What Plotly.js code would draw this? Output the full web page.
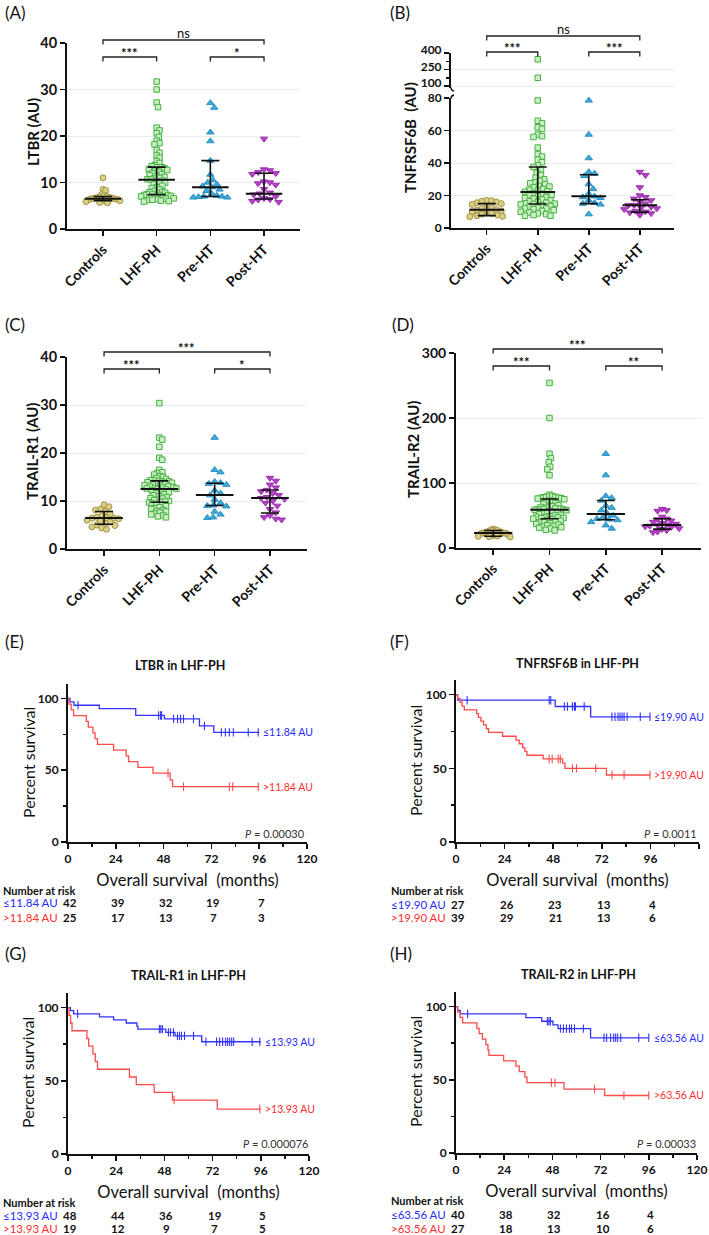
<!DOCTYPE html>
<html><head><meta charset="utf-8">
<script src="https://cdn.plot.ly/plotly-3.0.1.min.js"></script>
<style>html,body{margin:0;padding:0;background:#fff}#chart{width:709px;height:1235px}</style>
</head><body><div id="chart"></div>
<script>
// ================= DATA =================
const groups = ['Controls', 'LHF-PH', 'Pre-HT', 'Post-HT'];

// (A) LTBR
const ltbrControls = [11.0, 8.5, 8.3, 7.4, 7.2, 7.0, 6.9, 6.8, 6.7, 6.6, 6.6, 6.5, 6.5, 6.4, 6.3, 6.2, 6.1, 6.0, 5.9, 5.7, 5.6];
const ltbrLHFPH = [31.7, 30.0, 27.2, 26.2, 21.8, 21.2, 20.6, 19.8, 19.0, 18.5, 18.2, 17.0, 16.4, 15.8, 15.3, 14.6, 14.2, 13.7, 13.5, 13.3, 13.3, 13.1, 12.9, 12.7, 12.5, 12.3, 12.0, 11.8, 11.6, 11.4, 11.2, 11.0, 10.8, 10.7, 10.6, 10.4, 10.2, 10.0, 9.8, 9.6, 9.3, 9.0, 8.8, 8.5, 8.2, 8.0, 7.9, 7.8, 7.6, 7.5, 7.4, 7.3, 7.3, 7.2, 7.1, 7.0, 6.9, 6.8, 6.7, 6.6, 6.5, 6.4, 6.3, 6.2, 6.1, 6.0, 5.9];
const ltbrPreHT = [27.1, 26.1, 20.8, 18.9, 14.7, 11.7, 10.5, 10.0, 9.6, 9.2, 9.0, 8.5, 8.2, 7.6, 7.2, 7.0, 7.0, 6.9, 6.8, 6.8];
const ltbrPostHT = [19.4, 12.8, 12.6, 12.2, 12.0, 11.8, 10.2, 10.0, 9.8, 9.5, 8.6, 7.8, 7.6, 7.4, 7.0, 6.6, 6.4, 6.3, 6.0, 5.8];
const ltbrMedian = [6.5, 10.6, 9.0, 7.6];
const ltbrQ1 = [6.1, 7.4, 7.0, 6.45];
const ltbrQ3 = [7.0, 13.3, 14.7, 12.0];

// (B) TNFRSF6B
const tnfControls = [17.0, 16.8, 16.5, 16.0, 15.5, 15.0, 14.5, 13.0, 12.5, 12.0, 11.3, 11.0, 10.5, 10.0, 9.5, 9.0, 8.5, 8.0, 7.5, 7.2, 7.0];
const tnfLHFPH = [343, 175, 78.5, 66, 64.5, 62, 61, 57.5, 56.5, 56, 49.5, 45.5, 44, 42, 40.5, 38.5, 37.5, 36, 34, 32.5, 31, 30, 29, 28, 27.5, 27, 26, 25.5, 25, 24, 23.5, 23, 22.5, 22.2, 21.5, 21, 20.5, 20, 19.5, 19, 18.5, 18, 17.5, 17, 16.5, 16, 15.5, 15.2, 15, 14.8, 14.5, 14, 13.5, 13, 12.5, 12, 12, 11.5, 11, 10.5, 10, 9.5, 9, 8.5, 8, 7.5, 7.5];
const tnfPreHT = [78.5, 57.5, 43, 34.5, 33.5, 32, 27, 24, 21, 19.5, 19, 18.5, 17, 15.5, 15, 14.5, 8.5];
const tnfPostHT = [34.5, 32.5, 25, 20, 19, 18, 17, 16, 15, 14, 14, 13, 12.5, 12, 11.5, 10.5, 10, 9.5, 9, 8];
const tnfMedian = [11.3, 22.2, 19.5, 14.0];
const tnfQ1 = [7.6, 14.8, 15.0, 9.8];
const tnfQ3 = [15.0, 37.5, 32.8, 17.4];

// (C) TRAIL-R1
const trail1Controls = [9.2, 8.8, 8.3, 8.1, 7.8, 7.3, 6.9, 6.6, 6.5, 6.4, 6.4, 6.3, 6.0, 5.8, 5.6, 5.3, 5.0, 4.9, 4.6, 4.4, 4.1];
const trail1LHFPH = [30.4, 23.2, 22.8, 21.3, 19.0, 18.6, 16.5, 16.0, 15.8, 15.5, 15.2, 15.0, 14.8, 14.6, 14.4, 14.3, 14.2, 14.1, 14.0, 13.9, 13.8, 13.6, 13.5, 13.4, 13.3, 13.2, 13.1, 13.0, 12.9, 12.8, 12.7, 12.6, 12.6, 12.5, 12.4, 12.2, 12.0, 11.8, 11.6, 11.4, 11.2, 11.0, 10.8, 10.6, 10.5, 10.3, 10.2, 10.0, 9.9, 9.8, 9.7, 9.5, 9.3, 9.1, 8.9, 8.7, 8.5, 8.3, 8.1, 7.9, 7.8, 7.6, 7.4, 7.2, 7.0, 6.8, 6.6];
const trail1PreHT = [23.2, 16.5, 16.0, 14.0, 13.8, 13.6, 13.4, 12.2, 11.6, 11.2, 10.3, 9.6, 9.1, 9.0, 8.9, 7.8, 7.2, 6.6, 6.5];
const trail1PostHT = [14.8, 14.2, 13.4, 12.8, 12.3, 12.0, 11.6, 11.2, 10.8, 10.6, 10.4, 10.0, 9.6, 9.0, 8.3, 7.6, 7.0, 6.6, 6.3, 6.1];
const trail1Median = [6.45, 12.5, 11.25, 10.6];
const trail1Q1 = [5.15, 9.75, 9.05, 7.5];
const trail1Q3 = [7.8, 14.2, 13.7, 12.3];

// (D) TRAIL-R2
const trail2Controls = [29, 28, 27.5, 27, 26, 25, 24.5, 24, 23.5, 23, 23, 22.5, 22, 21, 20, 19.5, 19, 18.5, 18, 17.5, 17];
const trail2LHFPH = [254, 200, 145, 138, 132, 125, 121, 112, 82, 80, 79, 78.5, 78, 77.5, 77, 76.5, 76, 75, 73, 72, 70, 69, 68, 66, 65, 64, 63, 62, 61, 60.5, 60, 59.5, 59.2, 58.7, 58, 57, 56, 55, 54, 53, 52, 51, 50, 49, 48, 47.5, 47, 46, 45.5, 45, 44, 43, 42, 41, 40, 39, 38, 37, 36, 35, 34, 33, 32, 31, 30, 28, 27];
const trail2PreHT = [145, 112, 80, 77, 73, 65, 62, 58, 53, 50, 47, 45, 44, 43, 40, 35, 30];
const trail2PostHT = [60, 58, 57, 48, 45, 44, 42, 40, 38, 37, 36, 35, 34, 33, 32, 30, 29, 27, 25, 24];
const trail2Median = [23, 58.7, 52.5, 35.2];
const trail2Q1 = [18, 45, 43.4, 29];
const trail2Q3 = [27, 75.5, 73, 45];

// Kaplan-Meier (time in months, survival in %)
const riskTimes = [0, 24, 48, 72, 96];
// (E) LTBR
const eLowT = [0, 1, 3, 15.7, 34, 48.4, 66, 73.2, 96];
const eLowS = [100, 97.6, 95.2, 92.9, 88.1, 85.7, 80.8, 76.3, 76.3];
const eLowCens = [5, 45.5, 46.5, 47, 53, 55, 56.5, 58, 63, 68.5, 77, 79, 81, 83, 90.5, 95.5];
const eHighT = [0, 0.4, 1.6, 2.8, 9.2, 10.2, 12.5, 13.6, 14.8, 22.9, 29.2, 30.4, 35.1, 42.7, 51.3, 52.5, 96];
const eHighS = [100, 96, 92, 88, 84, 80, 76, 72, 68, 64, 60, 56, 52, 48, 43.3, 38.5, 38.5];
const eHighCens = [50.2, 58, 81, 82.7, 95.5];
const eRiskLow = [42, 39, 32, 19, 7];
const eRiskHigh = [25, 17, 13, 7, 3];
// (F) TNFRSF6B
const fLowT = [0, 0.8, 49, 66.5, 96];
const fLowS = [100, 96.3, 92.0, 85.0, 85.0];
const fLowCens = [5.5, 46, 46.8, 53.5, 55, 57.5, 58.5, 59, 63.3, 77, 78.5, 80, 81, 82, 83, 84.5, 91, 95.8];
const fHighT = [0, 0.8, 2, 3, 4.1, 10.2, 11, 12.3, 13.6, 15, 16.1, 23, 29.6, 31.2, 32.9, 34, 35, 43, 52.6, 53.8, 74.3, 96];
const fHighS = [100, 97.4, 94.9, 92.3, 89.7, 87.2, 84.6, 82.1, 79.5, 76.9, 74.4, 71.8, 69.2, 66.7, 64.1, 61.5, 58.9, 56.4, 53.6, 50.0, 45.5, 45.5];
const fHighCens = [46, 47.5, 50.5, 51.5, 57.5, 59.5, 69, 77, 83, 95.8];
const fRiskLow = [27, 26, 23, 13, 4];
const fRiskHigh = [39, 29, 21, 13, 6];
// (G) TRAIL-R1
const gLowT = [0, 1.2, 2.8, 15.7, 22.7, 29, 34.3, 34.8, 48.7, 53.3, 66.6, 96];
const gLowS = [100, 97.9, 95.8, 93.7, 91.6, 89.5, 87.4, 85.3, 83.1, 80.7, 76.7, 76.7];
const gLowCens = [4.8, 45.5, 46.2, 47, 50, 51, 52.5, 54.5, 55.5, 56.5, 58, 62.5, 68.7, 74, 75.5, 77, 78.5, 79.5, 80.5, 81.5, 82.5, 91.7, 95.5];
const gHighT = [0, 0.5, 1.3, 2.0, 9.4, 10.3, 12.4, 13.6, 14.7, 30.6, 34, 42.9, 52, 74.3, 96];
const gHighS = [100, 94.7, 89.5, 84.2, 78.9, 73.7, 68.4, 63.2, 57.9, 52.6, 47.4, 42.1, 36.8, 30.7, 30.7];
const gHighCens = [52.8, 95.5];
const gRiskLow = [48, 44, 36, 19, 5];
const gRiskHigh = [19, 12, 9, 7, 5];
// (H) TRAIL-R2
const hLowT = [0, 0.8, 2.2, 34.8, 42.7, 48.3, 50.8, 67, 96];
const hLowS = [100, 97.5, 95, 92.5, 90, 87.5, 85, 78.7, 78.7];
const hLowCens = [5.8, 45.5, 46.3, 47, 52, 53.5, 55, 56.5, 57.5, 59, 63.4, 73.7, 75, 77, 78.5, 79.5, 80.5, 82, 91, 96];
const hHighT = [0, 0.8, 2, 3.3, 10.4, 11.5, 13.2, 14.9, 15.9, 16.4, 23.7, 29.8, 31.5, 34.3, 35.3, 53.8, 74, 96];
const hHighS = [100, 96.3, 92.6, 88.9, 85.2, 81.5, 77.8, 74.1, 70.4, 66.7, 63.0, 59.3, 55.6, 51.9, 48.1, 43.7, 39.3, 39.3];
const hHighCens = [47.5, 49.3, 69, 83.6, 96];
const hRiskLow = [40, 38, 32, 16, 4];
const hRiskHigh = [27, 18, 13, 10, 6];

// ================= STYLE / LAYOUT =================
const W = 709, H = 1235;
const FONT = 'Lato, "Open Sans", "DejaVu Sans", sans-serif';
const INK = '#111';
const BLUE = '#3232ff', RED = '#ff4a4a';
const BLUE_T = '#2a2aff', RED_T = '#ff2e2e';
const px = x => x / W, py = y => 1 - y / H;

const groupStyle = [
  {symbol: 'circle', size: 6, color: '#d9cf88', line: '#a39340'},
  {symbol: 'square', size: 5.5, color: '#cdeec5', line: '#46b343'},
  {symbol: 'triangle-up', size: 6.5, color: '#3ba8d8', line: '#2a90c2'},
  {symbol: 'triangle-down', size: 6.5, color: '#b444c5', line: '#9b2eae'}
];

const scatterPanels = [
  {letter: '(A)', lx: 3, ly: 12, xa: 'x', ya: 'y', l: 67, r: 300, t: 43, b: 229, xr: [-0.67, 3.67], yr: [0, 40], ticks: [0, 10, 20, 30, 40], tfs: 14.5,
   title: 'LTBR (AU)', ttx: 33, tty: 132, sets: [ltbrControls, ltbrLHFPH, ltbrPreHT, ltbrPostHT], med: ltbrMedian, q1: ltbrQ1, q3: ltbrQ3,
   brackets: [[0, 1, '***', 57], [2, 3, '*', 57], [0, 3, 'ns', 40]]},
  {letter: '(B)', lx: 388, ly: 12, xa: 'x2', ya: 'y2', l: 451, r: 674, t: 98, b: 228, xr: [-0.7, 3.67], yr: [0, 80], ticks: [0, 20, 40, 60, 80], tfs: 12,
   up: {ya: 'y9', t: 53, b: 88, yr: [82, 400], ticks: [100, 250, 400], minor: [175, 325]},
   title: 'TNFRSF6B\u00a0 (AU)', ttx: 410, tty: 138, sets: [tnfControls, tnfLHFPH, tnfPreHT, tnfPostHT], med: tnfMedian, q1: tnfQ1, q3: tnfQ3,
   brackets: [[0, 1, '***', 52], [2, 3, '***', 52], [0, 3, 'ns', 36]]},
  {letter: '(C)', lx: 3, ly: 325, xa: 'x3', ya: 'y3', l: 67, r: 307, t: 357, b: 549, xr: [-0.67, 3.67], yr: [0, 40], ticks: [0, 10, 20, 30, 40], tfs: 14.5,
   title: 'TRAIL-R1 (AU)', ttx: 32, tty: 452, sets: [trail1Controls, trail1LHFPH, trail1PreHT, trail1PostHT], med: trail1Median, q1: trail1Q1, q3: trail1Q3,
   brackets: [[0, 1, '***', 369], [2, 3, '*', 369], [0, 3, '***', 352]]},
  {letter: '(D)', lx: 390, ly: 325, xa: 'x4', ya: 'y4', l: 456, r: 701, t: 353, b: 548, xr: [-0.66, 3.69], yr: [0, 300], ticks: [0, 100, 200, 300], tfs: 14,
   title: 'TRAIL-R2 (AU)', ttx: 413, tty: 450, sets: [trail2Controls, trail2LHFPH, trail2PreHT, trail2PostHT], med: trail2Median, q1: trail2Q1, q3: trail2Q3,
   brackets: [[0, 1, '***', 366], [2, 3, '**', 366], [0, 3, '***', 349]]}
];

const kmPanels = [
  {letter: '(E)', lx: 3, ly: 641, xa: 'x5', ya: 'y5', l: 68, r: 307, t: 684, b: 842, title: 'LTBR in LHF-PH', tx: 180, ty: 665,
   ytx: 28, yty: 763, cut: '11.84', pval: '0.00030', pvx: 307, pvy: 833, labX: 261,
   low: {T: eLowT, S: eLowS, C: eLowCens, risk: eRiskLow}, high: {T: eHighT, S: eHighS, C: eHighCens, risk: eRiskHigh},
   tabX: 1, tabY: [890, 902, 917]},
  {letter: '(F)', lx: 388, ly: 641, xa: 'x6', ya: 'y6', l: 456, r: 699, t: 680, b: 842, title: 'TNFRSF6B in LHF-PH', tx: 577, ty: 663,
   ytx: 415, yty: 761, cut: '19.90', pval: '0.0011', pvx: 699, pvy: 833, labX: 652,
   low: {T: fLowT, S: fLowS, C: fLowCens, risk: fRiskLow}, high: {T: fHighT, S: fHighS, C: fHighCens, risk: fRiskHigh},
   tabX: 389, tabY: [890, 904, 918]},
  {letter: '(G)', lx: 3, ly: 953, xa: 'x7', ya: 'y7', l: 68, r: 309, t: 993, b: 1154, title: 'TRAIL-R1 in LHF-PH', tx: 189, ty: 975,
   ytx: 27, yty: 1073, cut: '13.93', pval: '0.000076', pvx: 310, pvy: 1143, labX: 263,
   low: {T: gLowT, S: gLowS, C: gLowCens, risk: gRiskLow}, high: {T: gHighT, S: gHighS, C: gHighCens, risk: gRiskHigh},
   tabX: 1, tabY: [1202, 1215, 1228]},
  {letter: '(H)', lx: 388, ly: 953, xa: 'x8', ya: 'y8', l: 456, r: 697, t: 992, b: 1153, title: 'TRAIL-R2 in LHF-PH', tx: 578, ty: 974,
   ytx: 415, yty: 1072, cut: '63.56', pval: '0.00033', pvx: 698, pvy: 1143, labX: 652,
   low: {T: hLowT, S: hLowS, C: hLowCens, risk: hRiskLow}, high: {T: hHighT, S: hHighS, C: hHighCens, risk: hRiskHigh},
   tabX: 389, tabY: [1200, 1214, 1228]}
];

// ================= HELPERS =================
function valPx(p, v) {
  if (p.up && v > p.yr[1]) {
    const u = p.up;
    return u.b - (v - u.yr[0]) * (u.b - u.t) / (u.yr[1] - u.yr[0]);
  }
  return p.b - (v - p.yr[0]) * (p.b - p.t) / (p.yr[1] - p.yr[0]);
}
function catPx(p, i) { return p.l + (i - p.xr[0]) * (p.r - p.l) / (p.xr[1] - p.xr[0]); }
// beeswarm offsets (px), compressed to a maximum half-width
function swarm(pys, size, maxHalf) {
  const order = pys.map((y, i) => i).sort((a, b) => pys[a] - pys[b]);
  const placed = [], off = new Array(pys.length).fill(0);
  const step = size / 4;
  for (const i of order) {
    for (let k = 0; k < 400; k++) {
      const dx = (k % 2 === 1 ? 1 : -1) * Math.ceil(k / 2) * step;
      let ok = true;
      for (const q of placed) {
        if (Math.hypot(q.dx - dx, q.y - pys[i]) < size) { ok = false; break; }
      }
      if (ok) { placed.push({dx: dx, y: pys[i]}); off[i] = dx; break; }
    }
  }
  const m = Math.max(...off.map(Math.abs));
  const f = m > maxHalf ? maxHalf / m : 1;
  return off.map(d => d * f);
}
function stepAt(T, S, t) { let s = S[0]; for (let i = 0; i < T.length; i++) if (T[i] <= t) s = S[i]; return s; }
function ann(text, x, y, o) {
  return Object.assign({text: text, x: px(x), y: py(y), xref: 'paper', yref: 'paper', showarrow: false,
    xanchor: 'center', yanchor: 'middle', font: {family: FONT, size: 12, color: INK}}, o || {});
}

const traces = [], shapes = [], annotations = [];
const layout = {
  width: W, height: H, margin: {l: 0, r: 0, t: 0, b: 0}, paper_bgcolor: '#fff', plot_bgcolor: 'rgba(0,0,0,0)',
  showlegend: false, font: {family: FONT, color: INK}, hovermode: false
};

function baseAxis() {
  return {showline: true, linewidth: 2, linecolor: INK, ticks: 'outside', ticklen: 5, tickwidth: 1.5, tickcolor: INK,
    zeroline: false, fixedrange: true};
}

// ---------- scatter panels ----------
scatterPanels.forEach(p => {
  const perCat = (p.r - p.l) / (p.xr[1] - p.xr[0]);
  p.sets.forEach((vals, gi) => {
    const st = groupStyle[gi];
    const offs = swarm(vals.map(v => valPx(p, v)), st.size * 0.9, 17);
    const parts = p.up ? [[p.ya, vals.map((v, i) => i).filter(i => vals[i] <= p.yr[1])], [p.up.ya, vals.map((v, i) => i).filter(i => vals[i] > p.yr[1])]]
                       : [[p.ya, vals.map((v, i) => i)]];
    parts.forEach(([ya, idx]) => {
      if (!idx.length) return;
      traces.push({type: 'scatter', mode: 'markers', xaxis: p.xa, yaxis: ya, cliponaxis: false, hoverinfo: 'skip',
        x: idx.map(i => gi + offs[i] / perCat), y: idx.map(i => vals[i]),
        marker: {symbol: st.symbol, size: st.size, color: st.color, line: {color: st.line, width: 1}}});
    });
  });
  traces.push({type: 'scatter', mode: 'markers', xaxis: p.xa, yaxis: p.ya, hoverinfo: 'skip', cliponaxis: false,
    x: [0, 1, 2, 3], y: p.med, marker: {size: 2, color: 'rgba(0,0,0,0)'},
    error_y: {type: 'data', symmetric: false, array: p.q3.map((q, i) => q - p.med[i]), arrayminus: p.med.map((m, i) => m - p.q1[i]),
      width: 9, thickness: 1.6, color: INK},
    error_x: {type: 'constant', value: 0.34, width: 0, thickness: 2, color: INK}});

  const n = p.xa === 'x' ? '' : p.xa.slice(1);
  layout['xaxis' + n] = Object.assign(baseAxis(), {domain: [px(p.l), px(p.r)], range: p.xr, anchor: p.ya,
    tickvals: [0, 1, 2, 3], ticktext: groups, tickangle: -45, showgrid: false,
    tickfont: {family: FONT, size: 14, color: INK, weight: 'bold'}});
  layout['yaxis' + n] = Object.assign(baseAxis(), {domain: [py(p.b), py(p.t)], range: p.yr, anchor: p.xa,
    tickvals: p.ticks, showgrid: true, gridcolor: '#ececec', gridwidth: 1,
    tickfont: {family: FONT, size: p.tfs, color: INK, weight: 'bold'}});
  annotations.push(ann(p.title, p.ttx, p.tty, {textangle: -90, font: {family: FONT, size: 15, color: INK, weight: 'bold'}}));
  if (p.up) {
    layout['yaxis' + p.up.ya.slice(1)] = Object.assign(baseAxis(), {domain: [py(p.up.b), py(p.up.t)], range: p.up.yr, anchor: p.xa,
      tickvals: p.up.ticks, showgrid: true, gridcolor: '#ececec', gridwidth: 1, ticklabelshift: -3,
      minor: {tickvals: p.up.minor, ticks: 'outside', ticklen: 3, tickwidth: 1.5, tickcolor: INK, showgrid: false},
      tickfont: {family: FONT, size: p.tfs, color: INK, weight: 'bold'}});
    // axis break marks (small hooks at the ends of the two segments)
    shapes.push({type: 'path', xref: 'paper', yref: 'paper', line: {color: INK, width: 1.4},
      path: `M ${px(p.l)},${py(p.up.b - 0.5)} Q ${px(p.l)},${py(p.up.b + 2.5)} ${px(p.l + 3)},${py(p.up.b + 3)}`});
    shapes.push({type: 'path', xref: 'paper', yref: 'paper', line: {color: INK, width: 1.4},
      path: `M ${px(p.l)},${py(p.t + 0.5)} Q ${px(p.l)},${py(p.t - 2.5)} ${px(p.l + 3)},${py(p.t - 3)}`});
  }
  // significance brackets
  p.brackets.forEach(([a, b, lab, yy]) => {
    const x1 = catPx(p, a), x2 = catPx(p, b);
    shapes.push({type: 'path', xref: 'paper', yref: 'paper', line: {color: '#222', width: 1.3},
      path: `M ${px(x1)},${py(yy + 4.5)} L ${px(x1)},${py(yy)} L ${px(x2)},${py(yy)} L ${px(x2)},${py(yy + 4.5)}`});
    annotations.push(ann(lab, (x1 + x2) / 2, lab === 'ns' ? yy - 7 : yy - 4,
      {font: {family: FONT, size: 13, color: INK, weight: lab === 'ns' ? 'normal' : 'bold'}}));
  });
  annotations.push(ann(p.letter, p.lx, p.ly, {xanchor: 'left', font: {family: FONT, size: 17, color: INK}}));
});

// ---------- Kaplan-Meier panels ----------
kmPanels.forEach(p => {
  [[p.low, BLUE], [p.high, RED]].forEach(([g, col]) => {
    traces.push({type: 'scatter', mode: 'lines', xaxis: p.xa, yaxis: p.ya, hoverinfo: 'skip',
      x: g.T, y: g.S, line: {shape: 'hv', color: col, width: 1.3}});
    traces.push({type: 'scatter', mode: 'markers', xaxis: p.xa, yaxis: p.ya, hoverinfo: 'skip', cliponaxis: false,
      x: g.C, y: g.C.map(t => stepAt(g.T, g.S, t)),
      marker: {symbol: 'line-ns-open', size: 6, color: col, line: {color: col, width: 1.1}}});
  });
  const n = p.xa.slice(1);
  layout['xaxis' + n] = Object.assign(baseAxis(), {domain: [px(p.l), px(p.r)], range: [0, 120], anchor: p.ya,
    tick0: 0, dtick: 24, showgrid: false,
    minor: {dtick: 12, ticks: 'outside', ticklen: 3, tickwidth: 1.5, tickcolor: INK, showgrid: false},
    tickfont: {family: FONT, size: 12, color: INK, weight: 'bold'},
    title: {text: 'Overall survival\u00a0 (months)', font: {family: FONT, size: 16.5, color: INK}, standoff: 9}});
  layout['yaxis' + n] = Object.assign(baseAxis(), {domain: [py(p.b), py(p.t)], range: [0, 110], anchor: p.xa,
    tick0: 0, dtick: 50, showgrid: false,
    minor: {dtick: 25, ticks: 'outside', ticklen: 3, tickwidth: 1.5, tickcolor: INK, showgrid: false},
    tickfont: {family: FONT, size: 12, color: INK, weight: 'bold'}});
  annotations.push(ann('Percent survival', p.ytx, p.yty, {textangle: -90, font: {family: FONT, size: 16, color: INK}}));

  annotations.push(ann(p.letter, p.lx, p.ly, {xanchor: 'left', font: {family: FONT, size: 17, color: INK}}));
  annotations.push(ann(p.title, p.tx, p.ty, {font: {family: FONT, size: 12.5, color: INK, weight: 'bold'}}));
  annotations.push(ann('<i>P</i> = ' + p.pval, p.pvx, p.pvy, {xanchor: 'right', font: {family: FONT, size: 11, color: '#333'}}));
  // curve end labels
  [[p.low, '\u2264' + p.cut + ' AU', BLUE_T], [p.high, '>' + p.cut + ' AU', RED_T]].forEach(([g, txt, col]) => {
    annotations.push({text: txt, x: px(p.labX), xref: 'paper', y: g.S[g.S.length - 1], yref: p.ya, showarrow: false,
      xanchor: 'left', yanchor: 'middle', font: {family: FONT, size: 10.5, color: col}});
  });
  // number at risk table
  annotations.push(ann('Number at risk', p.tabX, p.tabY[0], {xanchor: 'left', font: {family: FONT, size: 11, color: INK, weight: 'bold'}}));
  [[p.low, '\u2264' + p.cut + ' AU', BLUE_T, p.tabY[1]], [p.high, '>' + p.cut + ' AU', RED_T, p.tabY[2]]].forEach(([g, txt, col, yy]) => {
    annotations.push(ann(txt, p.tabX, yy, {xanchor: 'left', font: {family: FONT, size: 11.5, color: col}}));
    g.risk.forEach((v, i) => {
      annotations.push({text: String(v), x: riskTimes[i], xref: p.xa, y: py(yy), yref: 'paper', showarrow: false,
        xanchor: 'center', yanchor: 'middle', xshift: 2, font: {family: FONT, size: 11.5, color: INK, weight: 'bold'}});
    });
  });
});

layout.shapes = shapes;
layout.annotations = annotations;
Plotly.newPlot('chart', traces, layout, {staticPlot: true, displayModeBar: false});
</script>
</body></html>
